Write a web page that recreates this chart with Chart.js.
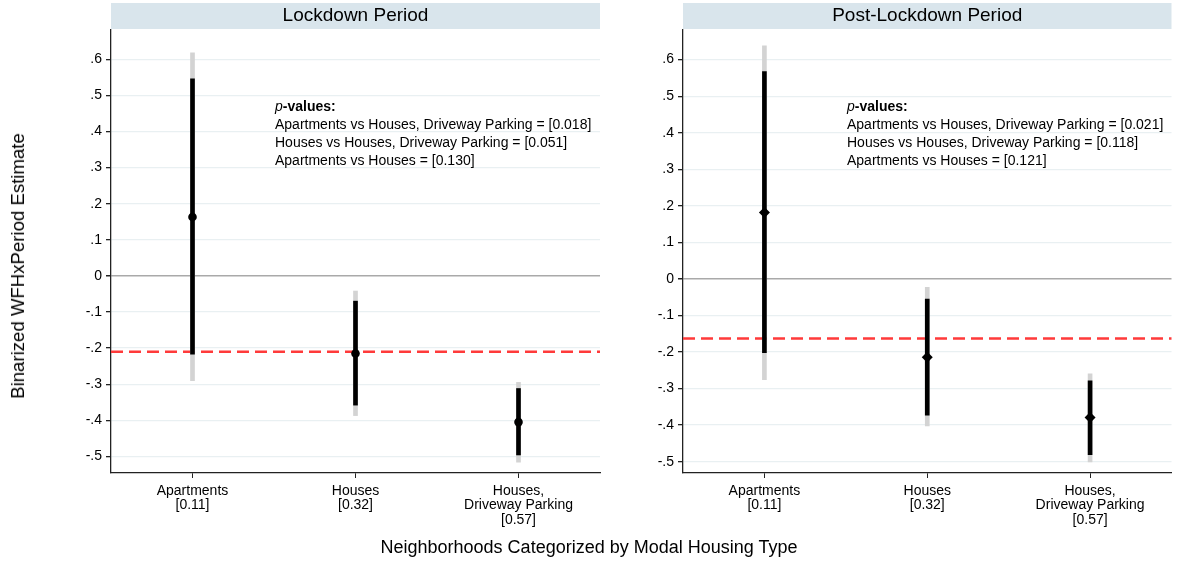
<!DOCTYPE html>
<html>
<head>
<meta charset="utf-8">
<script src="https://cdn.jsdelivr.net/npm/chart.js@4.4.1/dist/chart.umd.min.js"></script>
<style>
  html, body { margin: 0; padding: 0; background: #fff; }
  #wrap { position: relative; width: 1177px; height: 563px; overflow: hidden;
          font-family: "Liberation Sans", Arial, Helvetica, sans-serif; color: #000; }
  #leftPanel { position: absolute; left: 0; top: 0; }
  #rightPanel { position: absolute; left: 600px; top: 0; }
  #ytitle { position: absolute; left: 18px; top: 266px; white-space: nowrap; font-size: 18.6px;
            transform: translate(-50%, -50%) rotate(-90deg); }
  #xtitle { position: absolute; left: 589px; top: 547px; white-space: nowrap; font-size: 18px;
            transform: translate(-50%, -50%); }
</style>
</head>
<body>
<div id="wrap">
  <canvas id="leftPanel" width="605" height="563"></canvas>
  <canvas id="rightPanel" width="577" height="563"></canvas>
  <div id="ytitle">Binarized WFHxPeriod Estimate</div>
  <div id="xtitle">Neighborhoods Categorized by Modal Housing Type</div>
</div>
<script>
// Neighborhood groups (modal housing type, share in brackets)
const categories = [
  ["Apartments", "[0.11]"],
  ["Houses", "[0.32]"],
  ["Houses,", "Driveway Parking", "[0.57]"]
];

// y-axis ticks and their printed labels
const yTickValues = [-0.5, -0.4, -0.3, -0.2, -0.1, 0, 0.1, 0.2, 0.3, 0.4, 0.5, 0.6];
const yTickLabels = ["-.5", "-.4", "-.3", "-.2", "-.1", "0", ".1", ".2", ".3", ".4", ".5", ".6"];

// Lockdown period: point estimates, inner (black) and outer (gray) intervals
const lockEstimate  = [0.163, -0.215, -0.405];
const lockInnerLow  = [-0.217, -0.358, -0.496];
const lockInnerHigh = [0.546, -0.070, -0.312];
const lockOuterLow  = [-0.290, -0.387, -0.516];
const lockOuterHigh = [0.618, -0.042, -0.295];
const lockOverall   = -0.210;
const lockPValues = [
  "Apartments vs Houses, Driveway Parking = [0.018]",
  "Houses vs Houses, Driveway Parking = [0.051]",
  "Apartments vs Houses = [0.130]"
];

// Post-lockdown period
const postEstimate  = [0.182, -0.214, -0.379];
const postInnerLow  = [-0.202, -0.373, -0.481];
const postInnerHigh = [0.567, -0.055, -0.279];
const postOuterLow  = [-0.276, -0.402, -0.501];
const postOuterHigh = [0.638, -0.023, -0.260];
const postOverall   = -0.163;
const postPValues = [
  "Apartments vs Houses, Driveway Parking = [0.021]",
  "Houses vs Houses, Driveway Parking = [0.118]",
  "Apartments vs Houses = [0.121]"
];

const FONT = '"Liberation Sans", Arial, Helvetica, sans-serif';

// Panel header strip, dashed overall-mean line and the p-value note
const panelDecor = {
  id: 'panelDecor',
  beforeDatasetsDraw(chart, args, opts) {
    const { ctx, chartArea, scales } = chart;
    const py = scales.y.getPixelForValue(opts.overall);
    ctx.save();
    ctx.strokeStyle = '#ff3a3a';
    ctx.lineWidth = 2.4;
    ctx.setLineDash([12, 6]);
    ctx.beginPath();
    ctx.moveTo(chartArea.left, py);
    ctx.lineTo(chartArea.right, py);
    ctx.stroke();
    ctx.restore();
  },
  afterDraw(chart, args, opts) {
    const { ctx, chartArea } = chart;
    const { left, right, top } = chartArea;
    ctx.save();
    // header strip
    ctx.fillStyle = '#d9e5ec';
    ctx.fillRect(left, top - 27, right - left, 26);
    ctx.fillStyle = '#000';
    ctx.font = '19px ' + FONT;
    ctx.textAlign = 'center';
    ctx.textBaseline = 'middle';
    ctx.fillText(opts.title, (left + right) / 2, top - 14);

    // p-value note
    const x0 = left + 164;
    const y0 = top + 77;
    ctx.textAlign = 'left';
    ctx.font = 'italic 14px ' + FONT;
    ctx.fillText('p', x0, y0);
    const pw = ctx.measureText('p').width;
    ctx.font = 'bold 14px ' + FONT;
    ctx.fillText('-values:', x0 + pw, y0);
    ctx.font = '14px ' + FONT;
    opts.lines.forEach((line, i) => {
      ctx.fillText(line, x0, y0 + 18 * (i + 1));
    });
    ctx.restore();
  }
};

function buildPanel(canvasId, cfg) {
  const ctx = document.getElementById(canvasId).getContext('2d');
  return new Chart(ctx, {
    type: 'bar',
    data: {
      labels: categories,
      datasets: [
        {
          type: 'line',
          label: 'Estimate',
          data: cfg.estimate,
          showLine: false,
          pointStyle: cfg.marker,
          pointRadius: cfg.markerRadius,
          pointBackgroundColor: '#000',
          pointBorderColor: '#000',
          pointBorderWidth: 0,
          order: 0
        },
        {
          label: 'Inner interval',
          data: cfg.innerLow.map((v, i) => [v, cfg.innerHigh[i]]),
          backgroundColor: '#000',
          barThickness: 4,
          grouped: false,
          borderWidth: 0,
          borderSkipped: false,
          order: 1
        },
        {
          label: 'Outer interval',
          data: cfg.outerLow.map((v, i) => [v, cfg.outerHigh[i]]),
          backgroundColor: '#d3d3d3',
          barThickness: 4,
          grouped: false,
          borderWidth: 0,
          borderSkipped: false,
          order: 2
        }
      ]
    },
    options: {
      responsive: false,
      animation: false,
      layout: { padding: { left: 0, right: 5, top: 30, bottom: 0 } },
      plugins: {
        legend: { display: false },
        tooltip: { enabled: false },
        panelDecor: { title: cfg.title, overall: cfg.overall, lines: cfg.pValues }
      },
      scales: {
        x: {
          type: 'category',
          offset: true,
          grid: { drawOnChartArea: false, offset: false, tickLength: 5, tickColor: '#222' },
          border: { color: '#222', width: 1.3 },
          ticks: {
            color: '#000',
            font: { family: FONT, size: 14, lineHeight: 1.02 },
            maxRotation: 0, autoSkip: false, padding: 6
          },
          afterFit(scale) { scale.height = 90; }
        },
        y: {
          min: cfg.yMin,
          max: cfg.yMax,
          afterBuildTicks(scale) { scale.ticks = yTickValues.map(v => ({ value: v })); },
          afterFit(scale) { scale.width = cfg.yWidth; },
          grid: {
            color: c => (c.tick && c.tick.value === 0) ? '#a9a9a9' : '#e9f0f2',
            lineWidth: c => (c.tick && c.tick.value === 0) ? 1.5 : 1.3,
            tickLength: 5,
            tickColor: '#222'
          },
          border: { color: '#222', width: 1.3 },
          ticks: {
            color: '#000',
            font: { family: FONT, size: 14 },
            padding: 4,
            callback: (v, i) => yTickLabels[i]
          }
        }
      }
    },
    plugins: [panelDecor]
  });
}

buildPanel('leftPanel', {
  title: 'Lockdown Period',
  estimate: lockEstimate,
  innerLow: lockInnerLow, innerHigh: lockInnerHigh,
  outerLow: lockOuterLow, outerHigh: lockOuterHigh,
  overall: lockOverall, pValues: lockPValues,
  marker: 'circle', markerRadius: 4.3,
  yMin: -0.546, yMax: 0.681, yWidth: 111
});

buildPanel('rightPanel', {
  title: 'Post-Lockdown Period',
  estimate: postEstimate,
  innerLow: postInnerLow, innerHigh: postInnerHigh,
  outerLow: postOuterLow, outerHigh: postOuterHigh,
  overall: postOverall, pValues: postPValues,
  marker: 'rectRot', markerRadius: 5.5,
  yMin: -0.531, yMax: 0.681, yWidth: 83
});
</script>
</body>
</html>
